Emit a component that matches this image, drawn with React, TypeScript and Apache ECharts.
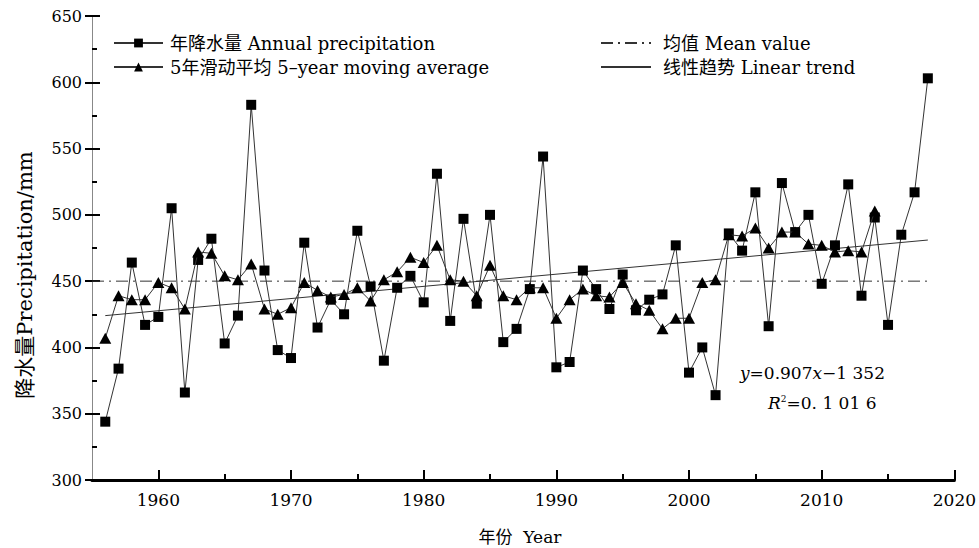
import React, { useEffect, useRef } from "react";
import * as echarts from "echarts";

const FONT = "'DejaVu Serif', 'Noto Sans CJK SC', serif";

const years = [
  1956, 1957, 1958, 1959, 1960, 1961, 1962, 1963, 1964, 1965, 1966, 1967, 1968, 1969, 1970,
  1971, 1972, 1973, 1974, 1975, 1976, 1977, 1978, 1979, 1980, 1981, 1982, 1983, 1984, 1985,
  1986, 1987, 1988, 1989, 1990, 1991, 1992, 1993, 1994, 1995, 1996, 1997, 1998, 1999, 2000,
  2001, 2002, 2003, 2004, 2005, 2006, 2007, 2008, 2009, 2010, 2011, 2012, 2013, 2014, 2015,
  2016, 2017, 2018,
];

const annualPrecip = [
  344, 384, 464, 417, 423, 505, 366, 466, 482, 403, 424, 583, 458, 398, 392,
  479, 415, 436, 425, 488, 446, 390, 445, 454, 434, 531, 420, 497, 433, 500,
  404, 414, 444, 544, 385, 389, 458, 444, 429, 455, 428, 436, 440, 477, 381,
  400, 364, 486, 473, 517, 416, 524, 487, 500, 448, 477, 523, 439, 498, 417,
  485, 517, 603,
];

// 5-year moving average, plotted for 1956–2014
const movingAvg = [
  407, 439, 436, 436, 449, 445, 429, 472, 471, 454, 451, 463, 429, 425, 430,
  449, 443, 438, 440, 445, 435, 451, 457, 468, 464, 477, 451, 450, 439, 462,
  439, 436, 445, 445, 422, 436, 444, 439, 438, 449, 433, 428, 414, 422, 422,
  449, 451, 485, 484, 490, 475, 487, 487, 478, 477, 472, 473, 472, 503,
];

const meanYears = [1955, 2018];
const meanValue = 450;

const trendYears = [1956, 2018];
const trendValues = [424, 481];

const xMajorTicks = [1960, 1970, 1980, 1990, 2000, 2010, 2020];
const xMinorTicks = [1965, 1975, 1985, 1995, 2005, 2015];

const NAME_ANNUAL = "年降水量 Annual precipitation";
const NAME_MA = "5年滑动平均 5–year moving average";
const NAME_MEAN = "均值 Mean value";
const NAME_TREND = "线性趋势 Linear trend";

export default function App() {
  const ref = useRef<HTMLDivElement>(null);

  useEffect(() => {
    document.body.style.margin = "0";
    if (!ref.current) return;
    const chart = echarts.init(ref.current, null, { renderer: "svg" });

    const lineColor = "#333";
    const clear = "rgba(0,0,0,0)";

    const option: any = {
      animation: false,
      backgroundColor: "#fff",
      grid: { left: 92, right: 23, top: 16, bottom: 68, containLabel: false },
      legend: [
        {
          data: [NAME_ANNUAL, NAME_MA],
          orient: "vertical",
          left: 113,
          top: 34,
          padding: 0,
          itemWidth: 49,
          itemHeight: 11,
          itemGap: 6,
          textStyle: {
            fontSize: 18,
            lineHeight: 18,
            fontFamily: FONT,
            color: "#000",
            padding: [0, 0, 0, 2],
          },
        },
        {
          data: [
            { name: NAME_MEAN, itemStyle: { color: clear, borderWidth: 0, opacity: 0 } },
            { name: NAME_TREND, itemStyle: { color: clear, borderWidth: 0, opacity: 0 } },
          ],
          orient: "vertical",
          left: 600,
          top: 34,
          padding: 0,
          itemWidth: 50,
          itemHeight: 11,
          itemGap: 6,
          textStyle: {
            fontSize: 18,
            lineHeight: 18,
            fontFamily: FONT,
            color: "#000",
            padding: [0, 0, 0, 7],
          },
        },
      ],
      xAxis: [
        {
          type: "value",
          min: 1955,
          max: 2020,
          position: "bottom",
          axisLine: { show: true, onZero: false, lineStyle: { color: "#000", width: 3 } },
          axisTick: {
            show: true,
            inside: true,
            length: 10,
            customValues: xMajorTicks,
            lineStyle: { color: "#000", width: 2 },
          },
          axisLabel: {
            customValues: xMajorTicks,
            formatter: (v: number) => String(v),
            color: "#000",
            fontSize: 17,
            fontFamily: FONT,
            margin: 11,
          },
          splitLine: { show: false },
        },
        {
          type: "value",
          min: 1955,
          max: 2020,
          position: "bottom",
          axisLine: { show: false },
          axisTick: {
            show: true,
            inside: true,
            length: 6,
            customValues: xMinorTicks,
            lineStyle: { color: "#000", width: 2 },
          },
          axisLabel: { show: false },
          splitLine: { show: false },
        },
      ],
      yAxis: [
        {
          type: "value",
          min: 300,
          max: 650,
          interval: 50,
          position: "left",
          axisLine: { show: true, lineStyle: { color: "#888", width: 1 } },
          axisTick: { show: true, inside: false, length: 7, lineStyle: { color: "#000", width: 2 } },
          axisLabel: { color: "#000", fontSize: 16, fontFamily: FONT, margin: 10 },
          splitLine: { show: false },
        },
        {
          type: "value",
          min: 300,
          max: 650,
          interval: 50,
          position: "left",
          axisLine: { show: false },
          axisTick: { show: true, inside: true, length: 8, lineStyle: { color: "#000", width: 2 } },
          minorTick: { show: true, splitNumber: 2, length: 5, lineStyle: { color: "#000", width: 2 } },
          axisLabel: { show: false },
          splitLine: { show: false },
          minorSplitLine: { show: false },
        },
      ],
      series: [
        {
          name: NAME_ANNUAL,
          type: "line",
          data: years.map((y, i) => [y, annualPrecip[i]]),
          symbol: "rect",
          symbolSize: 10,
          lineStyle: { color: lineColor, width: 1 },
          itemStyle: { color: "#000", borderWidth: 0 },
          z: 3,
        },
        {
          name: NAME_MA,
          type: "line",
          data: movingAvg.map((v, i) => [years[i], v]),
          symbol: "triangle",
          symbolSize: [12, 11],
          lineStyle: { color: lineColor, width: 1 },
          itemStyle: { color: "#000", borderWidth: 0 },
          z: 4,
        },
        {
          name: NAME_MEAN,
          type: "line",
          data: meanYears.map((y) => [y, meanValue]),
          symbol: "none",
          lineStyle: { color: lineColor, width: 1, type: [12, 5, 2, 5] },
          itemStyle: { color: clear, borderWidth: 0 },
          z: 2,
        },
        {
          name: NAME_TREND,
          type: "line",
          data: trendYears.map((y, i) => [y, trendValues[i]]),
          symbol: "none",
          lineStyle: { color: lineColor, width: 1 },
          itemStyle: { color: clear, borderWidth: 0 },
          z: 2,
        },
      ],
      graphic: [
        {
          type: "text",
          x: 25,
          y: 275,
          rotation: Math.PI / 2,
          style: {
            text: "降水量Precipitation/mm",
            fontSize: 21,
            fontFamily: FONT,
            fill: "#000",
            align: "center",
            verticalAlign: "middle",
          },
        },
        {
          type: "text",
          x: 520,
          y: 537,
          style: {
            text: "年份  Year",
            fontSize: 17,
            fontFamily: FONT,
            fill: "#000",
            align: "center",
            verticalAlign: "middle",
          },
        },
        {
          type: "text",
          x: 740,
          y: 373,
          style: {
            text: "{i|y}{n|=0.907}{i|x}{n|−1 352}",
            align: "left",
            verticalAlign: "middle",
            fontSize: 17,
            fontFamily: FONT,
            fill: "#000",
            rich: {
              i: { fontStyle: "italic", fontSize: 17, fontFamily: FONT, fill: "#000" },
              n: { fontSize: 17, fontFamily: FONT, fill: "#000" },
            },
          },
        },
        {
          type: "text",
          x: 768,
          y: 403,
          style: {
            text: "{i|R}{s|2}{n|=0. 1 01 6}",
            align: "left",
            verticalAlign: "middle",
            fontSize: 17,
            fontFamily: FONT,
            fill: "#000",
            rich: {
              i: { fontStyle: "italic", fontSize: 17, fontFamily: FONT, fill: "#000" },
              s: { fontSize: 9, fontFamily: FONT, fill: "#000", verticalAlign: "top" },
              n: { fontSize: 17, fontFamily: FONT, fill: "#000" },
            },
          },
        },
      ],
    };

    chart.setOption(option);
    return () => chart.dispose();
  }, []);

  return (
    <div
      ref={ref}
      style={{ position: "fixed", left: 0, top: 0, width: 979, height: 548, background: "#fff" }}
    />
  );
}
